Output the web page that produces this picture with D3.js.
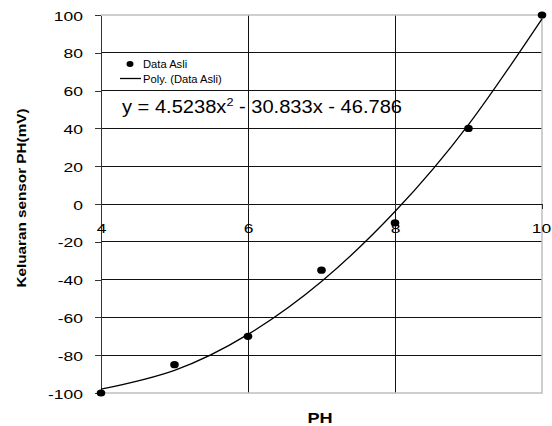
<!DOCTYPE html>
<html>
<head>
<meta charset="utf-8">
<script src="https://cdn.jsdelivr.net/npm/d3@7"></script>
<style>
  body { margin: 0; background: #fff; }
  svg text { font-family: "Liberation Sans", Arial, sans-serif; fill: #000; }
  .grid line, .tick line, .domain { shape-rendering: crispEdges; }
</style>
</head>
<body>
<svg id="chart" width="552" height="426"></svg>
<script>
// Data
const phValues = [4, 5, 6, 7, 8, 9, 10];
const sensorValues = [-100, -85, -70, -35, -10, 40, 100];
// Polynomial trendline, read at each pH
const trendPh = [4, 5, 6, 7, 8, 9, 10];
const trendValues = [-98, -88, -69, -41, -4, 42, 98];
const xTicks = [4, 6, 8, 10];
const yTicks = [-100, -80, -60, -40, -20, 0, 20, 40, 60, 80, 100];
const legendLabels = ["Data Asli", "Poly. (Data Asli)"];
const equationText = ["y = 4.5238x", "2", " - 30.833x - 46.786"];

// Plot area
const plot = { left: 101, right: 542, top: 15, bottom: 393 };

const svg = d3.select("#chart");

const x = d3.scaleLinear().domain([4, 10]).range([plot.left, plot.right]);
const y = d3.scaleLinear().domain([-100, 100]).range([plot.bottom, plot.top]);

// Horizontal gridlines
svg.append("g").attr("class", "grid").selectAll("line")
  .data(yTicks.filter(d => d > -100 && d < 100))
  .join("line")
  .attr("x1", plot.left).attr("x2", plot.right)
  .attr("y1", d => y(d)).attr("y2", d => y(d))
  .attr("stroke", "#111").attr("stroke-width", 1);

// Vertical gridlines
svg.append("g").attr("class", "grid").selectAll("line")
  .data(xTicks.filter(d => d > 4 && d < 10))
  .join("line")
  .attr("x1", d => x(d)).attr("x2", d => x(d))
  .attr("y1", plot.top).attr("y2", plot.bottom)
  .attr("stroke", "#111").attr("stroke-width", 1);

// Plot border (light grey top, right, bottom)
svg.append("path")
  .attr("d", `M${plot.left},${y(100)}H${x(10)}V${y(-100)}H${plot.left}`)
  .attr("fill", "none").attr("stroke", "#c0c0c0").attr("stroke-width", 1.5);

// Y axis
const yAxis = svg.append("g")
  .attr("transform", `translate(${plot.left},0)`)
  .call(d3.axisLeft(y).tickValues(yTicks).tickSize(6).tickSizeOuter(0).tickFormat(d => String(d)));
yAxis.select(".domain").attr("stroke", "#333");
yAxis.selectAll(".tick line").attr("stroke", "#333");
yAxis.selectAll(".tick text")
  .attr("x", 0).attr("dy", null).attr("y", 5)
  .attr("transform", "translate(-18,0) scale(1.4,1)")
  .style("font-size", "12.5px");

// X axis crossing at y = 0
const xAxis = svg.append("g")
  .attr("transform", `translate(0,${y(0)})`)
  .call(d3.axisBottom(x).tickValues(xTicks).tickSize(5).tickSizeOuter(0).tickFormat(d => String(d)));
xAxis.select(".domain").attr("stroke", "#111");
xAxis.selectAll(".tick line").attr("stroke", "#333");
xAxis.selectAll(".tick text")
  .attr("y", 0).attr("dy", null)
  .attr("transform", d => `translate(${d === 10 ? -1 : 0},29) scale(1.4,1)`)
  .style("font-size", "12.5px");

// Trendline
const line = d3.line()
  .x((d, i) => x(trendPh[i]))
  .y(d => y(d))
  .curve(d3.curveNatural);
svg.append("path")
  .datum(trendValues)
  .attr("d", line)
  .attr("fill", "none")
  .attr("stroke", "#000")
  .attr("stroke-width", 1.3);

// Data points
svg.append("g").selectAll("ellipse")
  .data(phValues)
  .join("ellipse")
  .attr("cx", d => x(d))
  .attr("cy", (d, i) => y(sensorValues[i]))
  .attr("rx", 4.3).attr("ry", 3.6)
  .attr("fill", "#000");

// Legend
const legend = svg.append("g");
legend.append("ellipse").attr("cx", 130).attr("cy", 64).attr("rx", 3.5).attr("ry", 3).attr("fill", "#000");
legend.append("line").attr("x1", 120).attr("x2", 141).attr("y1", 78.5).attr("y2", 78.5)
  .attr("stroke", "#000").attr("stroke-width", 1.3);
legend.selectAll("text")
  .data(legendLabels)
  .join("text")
  .attr("transform", (d, i) => `translate(143,${67.5 + i * 15}) scale(1.12,1)`)
  .style("font-size", "10px")
  .text(d => d);

// Trendline equation
const eq = svg.append("text")
  .attr("x", 122).attr("y", 113)
  .attr("textLength", 280).attr("lengthAdjust", "spacingAndGlyphs")
  .style("font-size", "17.5px");
eq.append("tspan").text(equationText[0]);
eq.append("tspan").attr("dy", -7).style("font-size", "11px").text(equationText[1]);
eq.append("tspan").attr("dy", 7).text(equationText[2]);

// Axis titles
svg.append("text")
  .attr("transform", "translate(26,198) rotate(-90)")
  .attr("text-anchor", "middle")
  .attr("textLength", 179).attr("lengthAdjust", "spacingAndGlyphs")
  .style("font-size", "12px").style("font-weight", "bold")
  .text("Keluaran sensor PH(mV)");

svg.append("text")
  .attr("transform", "translate(320,423) scale(1.25,1)")
  .attr("text-anchor", "middle")
  .style("font-size", "14.5px").style("font-weight", "bold")
  .text("PH");
</script>
</body>
</html>
